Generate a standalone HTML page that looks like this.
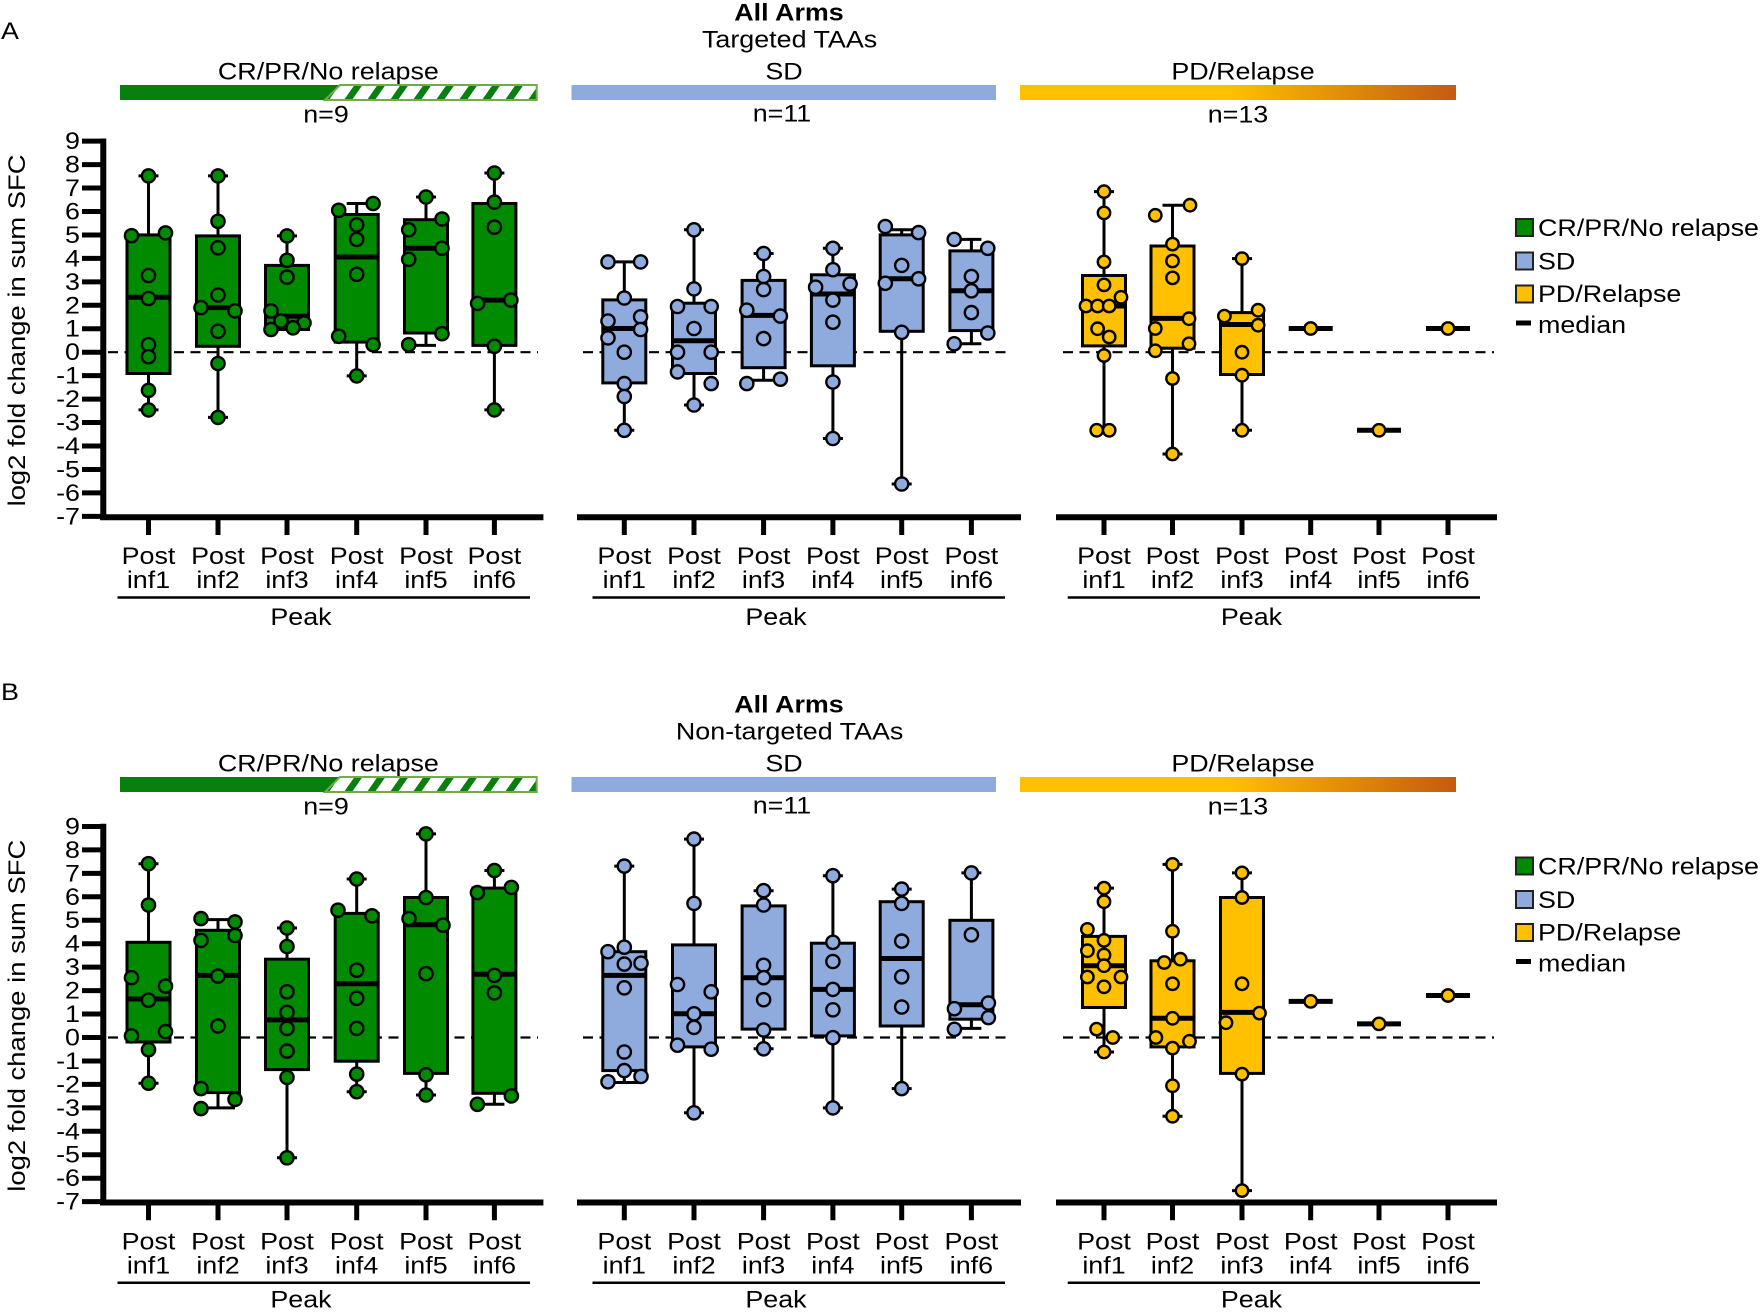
<!DOCTYPE html>
<html><head><meta charset="utf-8"><style>
html,body{margin:0;padding:0;background:#fff;}
body{width:1763px;height:1310px;overflow:hidden;}
svg text{font-family:"Liberation Sans",Arial,sans-serif;font-size:24px;fill:#000;}
.s{transform-box:fill-box;transform-origin:center;transform:scaleX(1.12);}
.sl{transform-box:fill-box;transform-origin:left center;transform:scaleX(1.12);}
.sr{transform-box:fill-box;transform-origin:right center;transform:scaleX(1.12);}
.w{stroke:#000;stroke-width:3;fill:none;}
.bx{stroke:#000;stroke-width:3;}
.md{stroke:#000;stroke-width:5;fill:none;}
.cg circle{fill:#008A00;stroke:#000;stroke-width:2.4;}
.cb circle{fill:#8FAADC;stroke:#000;stroke-width:2.4;}
.cy circle{fill:#FFC000;stroke:#000;stroke-width:2.4;}
</style></head><body>
<svg width="1763" height="1310" viewBox="0 0 1763 1310" xmlns="http://www.w3.org/2000/svg">
<defs>
<pattern id="hatch" patternUnits="userSpaceOnUse" width="23" height="30" patternTransform="skewX(-35)">
<rect width="23" height="30" fill="#fff"/><rect width="8" height="30" fill="#087F0F"/>
</pattern>
<linearGradient id="pdg" gradientUnits="userSpaceOnUse" x1="1020" y1="0" x2="1456" y2="0">
<stop offset="0" stop-color="#FFC000"/><stop offset="0.48" stop-color="#FFC000"/><stop offset="1" stop-color="#C55A11"/>
</linearGradient>
</defs>

<!-- ================= HEADER A ================= -->
<text class="sl" x="1" y="39" font-size="22">A</text>
<g>
<text class="s" x="789" y="20.3" text-anchor="middle" font-weight="bold">All Arms</text>
<text class="s" x="789.6" y="47.3" text-anchor="middle">Targeted TAAs</text>
<text class="s" x="328.4" y="79.4" text-anchor="middle">CR/PR/No relapse</text>
<text class="s" x="784" y="79.4" text-anchor="middle">SD</text>
<text class="s" x="1243" y="79.4" text-anchor="middle">PD/Relapse</text>
<polygon points="120,85 340,85 325,100 120,100" fill="#087F0F"/>
<polygon points="340,85 536.7,85 536.7,100 325,100" fill="url(#hatch)" stroke="#70AD47" stroke-width="2"/>
<rect x="571.5" y="85" width="424.5" height="15" fill="#8FAADC"/>
<rect x="1020" y="85" width="436" height="15" fill="url(#pdg)"/>
<text class="s" x="326" y="122.4" text-anchor="middle">n=9</text>
<text class="s" x="782" y="121.6" text-anchor="middle">n=11</text>
<text class="s" x="1238" y="122.4" text-anchor="middle">n=13</text>
</g>

<!-- ================= HEADER B ================= -->
<text class="sl" x="1" y="700" font-size="22">B</text>
<g transform="translate(0,692)">
<text class="s" x="789" y="20.3" text-anchor="middle" font-weight="bold">All Arms</text>
<text class="s" x="789.6" y="47.3" text-anchor="middle">Non-targeted TAAs</text>
<text class="s" x="328.4" y="79.4" text-anchor="middle">CR/PR/No relapse</text>
<text class="s" x="784" y="79.4" text-anchor="middle">SD</text>
<text class="s" x="1243" y="79.4" text-anchor="middle">PD/Relapse</text>
<polygon points="120,85 340,85 325,100 120,100" fill="#087F0F"/>
<polygon points="340,85 536.7,85 536.7,100 325,100" fill="url(#hatch)" stroke="#70AD47" stroke-width="2"/>
<rect x="571.5" y="85" width="424.5" height="15" fill="#8FAADC"/>
<rect x="1020" y="85" width="436" height="15" fill="url(#pdg)"/>
<text class="s" x="326" y="122.4" text-anchor="middle">n=9</text>
<text class="s" x="782" y="121.6" text-anchor="middle">n=11</text>
<text class="s" x="1238" y="122.4" text-anchor="middle">n=13</text>
</g>

<!-- ================= AXES A ================= -->
<g>
<path d="M82,141.15H103 M82,164.6H103 M82,188.05H103 M82,211.5H103 M82,234.95H103 M82,258.4H103 M82,281.85H103 M82,305.3H103 M82,328.75H103 M82,352.2H103 M82,375.65H103 M82,399.1H103 M82,422.55H103 M82,446H103 M82,469.45H103 M82,492.9H103 M82,516.35H103" stroke="#000" stroke-width="5"/>
<path d="M103.3,138.5V520" stroke="#000" stroke-width="6"/>
<path d="M100,517.2H543.4 M577,517.2H1021 M1056,517.2H1497" stroke="#000" stroke-width="6"/>
<path d="M148.5,517V535 M218,517V535 M287,517V535 M356.7,517V535 M426,517V535 M494.4,517V535 M624.3,517V535 M694,517V535 M763.6,517V535 M832.9,517V535 M901.7,517V535 M971.4,517V535 M1104,517V535 M1172.5,517V535 M1242,517V535 M1310.7,517V535 M1379,517V535 M1448,517V535" stroke="#000" stroke-width="5"/>
<path d="M108,352.2H538 M583,352.2H1012 M1063,352.2H1494" stroke="#000" stroke-width="2.2" stroke-dasharray="10 6.5"/>
<path d="M117.5,597.5H530 M592.5,597.5H1005 M1067.7,597.5H1480" stroke="#000" stroke-width="2.5"/>
<g font-size="23" text-anchor="end">
<text class="sr" x="80" y="149.2" font-size="23">9</text>
<text class="sr" x="80" y="172.6" font-size="23">8</text>
<text class="sr" x="80" y="196.05" font-size="23">7</text>
<text class="sr" x="80" y="219.5" font-size="23">6</text>
<text class="sr" x="80" y="242.95" font-size="23">5</text>
<text class="sr" x="80" y="266.4" font-size="23">4</text>
<text class="sr" x="80" y="289.85" font-size="23">3</text>
<text class="sr" x="80" y="313.3" font-size="23">2</text>
<text class="sr" x="80" y="336.75" font-size="23">1</text>
<text class="sr" x="80" y="360.2" font-size="23">0</text>
<text class="sr" x="80" y="383.65" font-size="23">-1</text>
<text class="sr" x="80" y="407.1" font-size="23">-2</text>
<text class="sr" x="80" y="430.55" font-size="23">-3</text>
<text class="sr" x="80" y="454" font-size="23">-4</text>
<text class="sr" x="80" y="477.45" font-size="23">-5</text>
<text class="sr" x="80" y="500.9" font-size="23">-6</text>
<text class="sr" x="80" y="524.35" font-size="23">-7</text>
</g>
<text transform="translate(25,330.4) rotate(-90)" text-anchor="middle" textLength="352" lengthAdjust="spacingAndGlyphs">log2 fold change in sum SFC</text>
<g text-anchor="middle">
<text class="s" x="148.5" y="564">Post</text><text class="s" x="148.5" y="588">inf1</text>
<text class="s" x="218" y="564">Post</text><text class="s" x="218" y="588">inf2</text>
<text class="s" x="287" y="564">Post</text><text class="s" x="287" y="588">inf3</text>
<text class="s" x="356.7" y="564">Post</text><text class="s" x="356.7" y="588">inf4</text>
<text class="s" x="426" y="564">Post</text><text class="s" x="426" y="588">inf5</text>
<text class="s" x="494.4" y="564">Post</text><text class="s" x="494.4" y="588">inf6</text>
<text class="s" x="624.3" y="564">Post</text><text class="s" x="624.3" y="588">inf1</text>
<text class="s" x="694" y="564">Post</text><text class="s" x="694" y="588">inf2</text>
<text class="s" x="763.6" y="564">Post</text><text class="s" x="763.6" y="588">inf3</text>
<text class="s" x="832.9" y="564">Post</text><text class="s" x="832.9" y="588">inf4</text>
<text class="s" x="901.7" y="564">Post</text><text class="s" x="901.7" y="588">inf5</text>
<text class="s" x="971.4" y="564">Post</text><text class="s" x="971.4" y="588">inf6</text>
<text class="s" x="1104" y="564">Post</text><text class="s" x="1104" y="588">inf1</text>
<text class="s" x="1172.5" y="564">Post</text><text class="s" x="1172.5" y="588">inf2</text>
<text class="s" x="1242" y="564">Post</text><text class="s" x="1242" y="588">inf3</text>
<text class="s" x="1310.7" y="564">Post</text><text class="s" x="1310.7" y="588">inf4</text>
<text class="s" x="1379" y="564">Post</text><text class="s" x="1379" y="588">inf5</text>
<text class="s" x="1448" y="564">Post</text><text class="s" x="1448" y="588">inf6</text>
<text class="s" x="301" y="625">Peak</text>
<text class="s" x="776" y="625">Peak</text>
<text class="s" x="1251.5" y="625">Peak</text>
</g>
</g>

<!-- ================= AXES B ================= -->
<g transform="translate(0,685.3)">
<path d="M82,141.15H103 M82,164.6H103 M82,188.05H103 M82,211.5H103 M82,234.95H103 M82,258.4H103 M82,281.85H103 M82,305.3H103 M82,328.75H103 M82,352.2H103 M82,375.65H103 M82,399.1H103 M82,422.55H103 M82,446H103 M82,469.45H103 M82,492.9H103 M82,516.35H103" stroke="#000" stroke-width="5"/>
<path d="M103.3,138.5V520" stroke="#000" stroke-width="6"/>
<path d="M100,517.2H543.4 M577,517.2H1021 M1056,517.2H1497" stroke="#000" stroke-width="6"/>
<path d="M148.5,517V535 M218,517V535 M287,517V535 M356.7,517V535 M426,517V535 M494.4,517V535 M624.3,517V535 M694,517V535 M763.6,517V535 M832.9,517V535 M901.7,517V535 M971.4,517V535 M1104,517V535 M1172.5,517V535 M1242,517V535 M1310.7,517V535 M1379,517V535 M1448,517V535" stroke="#000" stroke-width="5"/>
<path d="M108,352.2H538 M583,352.2H1012 M1063,352.2H1494" stroke="#000" stroke-width="2.2" stroke-dasharray="10 6.5"/>
<path d="M117.5,597.5H530 M592.5,597.5H1005 M1067.7,597.5H1480" stroke="#000" stroke-width="2.5"/>
<g text-anchor="end">
<text class="sr" x="80" y="149.2" font-size="23">9</text>
<text class="sr" x="80" y="172.6" font-size="23">8</text>
<text class="sr" x="80" y="196.05" font-size="23">7</text>
<text class="sr" x="80" y="219.5" font-size="23">6</text>
<text class="sr" x="80" y="242.95" font-size="23">5</text>
<text class="sr" x="80" y="266.4" font-size="23">4</text>
<text class="sr" x="80" y="289.85" font-size="23">3</text>
<text class="sr" x="80" y="313.3" font-size="23">2</text>
<text class="sr" x="80" y="336.75" font-size="23">1</text>
<text class="sr" x="80" y="360.2" font-size="23">0</text>
<text class="sr" x="80" y="383.65" font-size="23">-1</text>
<text class="sr" x="80" y="407.1" font-size="23">-2</text>
<text class="sr" x="80" y="430.55" font-size="23">-3</text>
<text class="sr" x="80" y="454" font-size="23">-4</text>
<text class="sr" x="80" y="477.45" font-size="23">-5</text>
<text class="sr" x="80" y="500.9" font-size="23">-6</text>
<text class="sr" x="80" y="524.35" font-size="23">-7</text>
</g>
<text transform="translate(25,330.4) rotate(-90)" text-anchor="middle" textLength="352" lengthAdjust="spacingAndGlyphs">log2 fold change in sum SFC</text>
<g text-anchor="middle">
<text class="s" x="148.5" y="564">Post</text><text class="s" x="148.5" y="588">inf1</text>
<text class="s" x="218" y="564">Post</text><text class="s" x="218" y="588">inf2</text>
<text class="s" x="287" y="564">Post</text><text class="s" x="287" y="588">inf3</text>
<text class="s" x="356.7" y="564">Post</text><text class="s" x="356.7" y="588">inf4</text>
<text class="s" x="426" y="564">Post</text><text class="s" x="426" y="588">inf5</text>
<text class="s" x="494.4" y="564">Post</text><text class="s" x="494.4" y="588">inf6</text>
<text class="s" x="624.3" y="564">Post</text><text class="s" x="624.3" y="588">inf1</text>
<text class="s" x="694" y="564">Post</text><text class="s" x="694" y="588">inf2</text>
<text class="s" x="763.6" y="564">Post</text><text class="s" x="763.6" y="588">inf3</text>
<text class="s" x="832.9" y="564">Post</text><text class="s" x="832.9" y="588">inf4</text>
<text class="s" x="901.7" y="564">Post</text><text class="s" x="901.7" y="588">inf5</text>
<text class="s" x="971.4" y="564">Post</text><text class="s" x="971.4" y="588">inf6</text>
<text class="s" x="1104" y="564">Post</text><text class="s" x="1104" y="588">inf1</text>
<text class="s" x="1172.5" y="564">Post</text><text class="s" x="1172.5" y="588">inf2</text>
<text class="s" x="1242" y="564">Post</text><text class="s" x="1242" y="588">inf3</text>
<text class="s" x="1310.7" y="564">Post</text><text class="s" x="1310.7" y="588">inf4</text>
<text class="s" x="1379" y="564">Post</text><text class="s" x="1379" y="588">inf5</text>
<text class="s" x="1448" y="564">Post</text><text class="s" x="1448" y="588">inf6</text>
<text class="s" x="301" y="622">Peak</text>
<text class="s" x="776" y="622">Peak</text>
<text class="s" x="1251.5" y="622">Peak</text>
</g>
</g>

<!-- ================= DATA A ================= -->
<!-- CR -->
<path class="w" d="M148.5,175.9V409.9 M138.5,175.9H158.5 M138.5,409.9H158.5 M218,175.9V417.4 M208,175.9H228 M208,417.4H228 M287,235.9V329.5 M277,235.9H297 M277,329.5H297 M356.7,203.5V375.9 M346.7,203.5H366.7 M346.7,375.9H366.7 M426,197V345.4 M416,197H436 M416,345.4H436 M494.4,173V409.9 M484.4,173H504.4 M484.4,409.9H504.4"/>
<g class="bx" fill="#008A00">
<rect x="127" y="234.9" width="43" height="138.6"/>
<rect x="196.5" y="235.9" width="43" height="110.4"/>
<rect x="265.5" y="265.4" width="43" height="64.1"/>
<rect x="335.2" y="214.5" width="43" height="127.6"/>
<rect x="404.5" y="219.7" width="43" height="113.3"/>
<rect x="472.9" y="203.5" width="43" height="141.9"/>
</g>
<path class="md" d="M127,297.3H170 M196.5,307.6H239.5 M265.5,316.1H308.5 M335.2,257H378.2 M404.5,248.3H447.5 M472.9,300.1H515.9"/>
<g class="cg">
<circle cx="148.5" cy="175.9" r="6.6"/><circle cx="131.5" cy="235.7" r="6.6"/><circle cx="165.5" cy="232.9" r="6.6"/><circle cx="148.5" cy="275.5" r="6.6"/><circle cx="148.5" cy="298.5" r="6.6"/><circle cx="148.5" cy="344.7" r="6.6"/><circle cx="148.5" cy="356.7" r="6.6"/><circle cx="148.5" cy="390.4" r="6.6"/><circle cx="148.5" cy="409.9" r="6.6"/>
<circle cx="218" cy="175.9" r="6.6"/><circle cx="218" cy="221.3" r="6.6"/><circle cx="218" cy="247.8" r="6.6"/><circle cx="218" cy="295" r="6.6"/><circle cx="201" cy="307.6" r="6.6"/><circle cx="235" cy="310.9" r="6.6"/><circle cx="218" cy="331.3" r="6.6"/><circle cx="218" cy="363.5" r="6.6"/><circle cx="218" cy="417.4" r="6.6"/>
<circle cx="287" cy="235.9" r="6.6"/><circle cx="287" cy="260.3" r="6.6"/><circle cx="287" cy="277.2" r="6.6"/><circle cx="271" cy="310.9" r="6.6"/><circle cx="281" cy="321" r="6.6"/><circle cx="304" cy="322.9" r="6.6"/><circle cx="271" cy="329.5" r="6.6"/><circle cx="293" cy="327.8" r="6.6"/>
<circle cx="338.7" cy="210.3" r="6.6"/><circle cx="373.1" cy="203.5" r="6.6"/><circle cx="356.7" cy="224.9" r="6.6"/><circle cx="356.7" cy="239.4" r="6.6"/><circle cx="356.7" cy="274.3" r="6.6"/><circle cx="338.7" cy="336.3" r="6.6"/><circle cx="373.1" cy="344.7" r="6.6"/><circle cx="356.7" cy="375.9" r="6.6"/>
<circle cx="426" cy="197" r="6.6"/><circle cx="442" cy="219" r="6.6"/><circle cx="408.7" cy="229.8" r="6.6"/><circle cx="442" cy="248.3" r="6.6"/><circle cx="408.7" cy="259.3" r="6.6"/><circle cx="442" cy="333.7" r="6.6"/><circle cx="408.7" cy="344.7" r="6.6"/>
<circle cx="494.4" cy="173" r="6.6"/><circle cx="494.4" cy="202.1" r="6.6"/><circle cx="494.4" cy="227.2" r="6.6"/><circle cx="477.6" cy="303.4" r="6.6"/><circle cx="510.9" cy="300.1" r="6.6"/><circle cx="494.4" cy="346.3" r="6.6"/><circle cx="494.4" cy="409.9" r="6.6"/>
</g>
<!-- SD -->
<path class="w" d="M624.3,261.9V430.3 M608,261.9H640.6 M614.3,430.3H634.3 M694,229.8V405 M684,229.8H704 M684,405H704 M763.6,253.5V380.3 M753.6,253.5H773.6 M746.8,380.3H780.4 M832.9,248.3V438.5 M822.9,248.3H842.9 M822.9,438.5H842.9 M901.7,229.8V484 M885.3,229.8H918.6 M891.7,484H911.7 M971.4,239.4V343.8 M954.2,239.4H981.4 M954.2,343.8H981.4"/>
<g class="bx" fill="#8FAADC">
<rect x="602.8" y="299.9" width="43" height="83"/>
<rect x="672.5" y="303.2" width="43" height="70.3"/>
<rect x="742.1" y="280.4" width="43" height="87.3"/>
<rect x="811.4" y="274.8" width="43" height="91"/>
<rect x="880.2" y="234.9" width="43" height="96.4"/>
<rect x="949.9" y="250.9" width="43" height="79.7"/>
</g>
<path class="md" d="M602.8,328.5H645.8 M672.5,340.7H715.5 M742.1,315.4H785.1 M811.4,294H854.4 M880.2,278.8H923.2 M949.9,290.8H992.9"/>
<g class="cb">
<circle cx="608" cy="261.9" r="6.6"/><circle cx="640.6" cy="261.9" r="6.6"/><circle cx="624.3" cy="298" r="6.6"/><circle cx="608" cy="321" r="6.6"/><circle cx="640.6" cy="316.8" r="6.6"/><circle cx="608" cy="337.9" r="6.6"/><circle cx="640.6" cy="329.5" r="6.6"/><circle cx="624.3" cy="352.2" r="6.6"/><circle cx="624.3" cy="383.6" r="6.6"/><circle cx="624.3" cy="396.5" r="6.6"/><circle cx="624.3" cy="430.3" r="6.6"/>
<circle cx="694" cy="229.8" r="6.6"/><circle cx="694" cy="288.9" r="6.6"/><circle cx="677.5" cy="306.5" r="6.6"/><circle cx="711.2" cy="306.5" r="6.6"/><circle cx="694" cy="328.5" r="6.6"/><circle cx="677.5" cy="352.2" r="6.6"/><circle cx="711.2" cy="352.2" r="6.6"/><circle cx="677.5" cy="371.9" r="6.6"/><circle cx="711.2" cy="383.6" r="6.6"/><circle cx="694" cy="405" r="6.6"/>
<circle cx="763.6" cy="253.5" r="6.6"/><circle cx="763.6" cy="276.5" r="6.6"/><circle cx="763.6" cy="289.6" r="6.6"/><circle cx="746.8" cy="310.2" r="6.6"/><circle cx="780.4" cy="316.1" r="6.6"/><circle cx="763.6" cy="338.6" r="6.6"/><circle cx="746.8" cy="383.6" r="6.6"/><circle cx="780.4" cy="379.2" r="6.6"/>
<circle cx="832.9" cy="248.3" r="6.6"/><circle cx="832.9" cy="269.7" r="6.6"/><circle cx="815.6" cy="287.2" r="6.6"/><circle cx="850.1" cy="284" r="6.6"/><circle cx="832.9" cy="300.1" r="6.6"/><circle cx="832.9" cy="322.2" r="6.6"/><circle cx="832.9" cy="382" r="6.6"/><circle cx="832.9" cy="438.5" r="6.6"/>
<circle cx="885.3" cy="226.5" r="6.6"/><circle cx="918.6" cy="232.6" r="6.6"/><circle cx="901.7" cy="265.4" r="6.6"/><circle cx="885.3" cy="283.3" r="6.6"/><circle cx="918.6" cy="278.8" r="6.6"/><circle cx="901.7" cy="332.3" r="6.6"/><circle cx="901.7" cy="484" r="6.6"/>
<circle cx="954.2" cy="239.4" r="6.6"/><circle cx="987.8" cy="248.3" r="6.6"/><circle cx="971.4" cy="276.5" r="6.6"/><circle cx="971.4" cy="290.8" r="6.6"/><circle cx="971.4" cy="312.6" r="6.6"/><circle cx="987.8" cy="333" r="6.6"/><circle cx="954.2" cy="343.8" r="6.6"/>
</g>
<!-- PD -->
<path class="w" d="M1104,191.6V430.3 M1094,191.6H1114 M1094,430.3H1114 M1172.5,205.2V454 M1162.5,205.2H1190 M1162.5,454H1182.5 M1242,258.6V430.3 M1232,258.6H1252 M1232,430.3H1252"/>
<g class="bx" fill="#FFC000">
<rect x="1082.5" y="275.5" width="43" height="70.4"/>
<rect x="1151" y="246" width="43" height="102.2"/>
<rect x="1220.5" y="312.6" width="43" height="61.9"/>
</g>
<path class="md" d="M1082.5,306H1125.5 M1151,318.4H1194 M1220.5,324.5H1263.5 M1288.7,328.5H1332.7 M1357,430.3H1401 M1426,328.5H1470"/>
<g class="cy">
<circle cx="1104" cy="191.6" r="6.2"/><circle cx="1104" cy="212.9" r="6.2"/><circle cx="1104" cy="261.9" r="6.2"/><circle cx="1104" cy="284.9" r="6.2"/><circle cx="1121" cy="297.3" r="6.2"/><circle cx="1086" cy="306" r="6.2"/><circle cx="1097.6" cy="306" r="6.2"/><circle cx="1109.2" cy="306" r="6.2"/><circle cx="1097.6" cy="328.7" r="6.2"/><circle cx="1109.2" cy="337" r="6.2"/><circle cx="1104" cy="355.5" r="6.2"/><circle cx="1096.7" cy="430.3" r="6.2"/><circle cx="1109.2" cy="430.3" r="6.2"/>
<circle cx="1190" cy="205.2" r="6.2"/><circle cx="1155.3" cy="215.3" r="6.2"/><circle cx="1172.5" cy="244.1" r="6.2"/><circle cx="1172.5" cy="261" r="6.2"/><circle cx="1172.5" cy="277.9" r="6.2"/><circle cx="1189" cy="318.7" r="6.2"/><circle cx="1155.3" cy="328.5" r="6.2"/><circle cx="1189" cy="343.8" r="6.2"/><circle cx="1155.3" cy="350.8" r="6.2"/><circle cx="1172.5" cy="378.5" r="6.2"/><circle cx="1172.5" cy="454" r="6.2"/>
<circle cx="1242" cy="258.6" r="6.2"/><circle cx="1224.4" cy="316.1" r="6.2"/><circle cx="1258.1" cy="310.2" r="6.2"/><circle cx="1258.1" cy="325.2" r="6.2"/><circle cx="1242" cy="352.2" r="6.2"/><circle cx="1242" cy="375.2" r="6.2"/><circle cx="1242" cy="430.3" r="6.2"/>
<circle cx="1310.7" cy="328.5" r="6.2"/><circle cx="1379" cy="430.3" r="6.2"/><circle cx="1448" cy="328.5" r="6.2"/>
</g>

<!-- ================= DATA B ================= -->
<!-- CR -->
<path class="w" d="M148.5,863.7V1083.2 M138.5,863.7H158.5 M138.5,1083.2H158.5 M218,919.6V1107.9 M201,919.6H235 M201,1107.9H235 M287,928V1157.8 M277,928H297 M277,1157.8H297 M356.7,879V1091.7 M346.7,879H366.7 M346.7,1091.7H366.7 M426,833.9V1095 M416,833.9H436 M416,1095H436 M494.4,870.5V1104.3 M484.4,870.5H504.4 M477.4,1104.3H504.4"/>
<g class="bx" fill="#008A00">
<rect x="127" y="942.3" width="43" height="99.7"/>
<rect x="196.5" y="930.3" width="43" height="162.3"/>
<rect x="265.5" y="959.2" width="43" height="110.4"/>
<rect x="335.2" y="913.4" width="43" height="147.8"/>
<rect x="404.5" y="897.5" width="43" height="175.9"/>
<rect x="472.9" y="888.1" width="43" height="205.2"/>
</g>
<path class="md" d="M127,999H170 M196.5,975.4H239.5 M265.5,1019.9H308.5 M335.2,983.8H378.2 M404.5,924.7H447.5 M472.9,974.2H515.9"/>
<g class="cg">
<circle cx="148.5" cy="863.7" r="6.6"/><circle cx="148.5" cy="905" r="6.6"/><circle cx="131.5" cy="977.7" r="6.6"/><circle cx="165.5" cy="986.1" r="6.6"/><circle cx="148.5" cy="1000.2" r="6.6"/><circle cx="131.5" cy="1035.9" r="6.6"/><circle cx="165.5" cy="1031.6" r="6.6"/><circle cx="148.5" cy="1049.7" r="6.6"/><circle cx="148.5" cy="1083.2" r="6.6"/>
<circle cx="201" cy="918.6" r="6.6"/><circle cx="235" cy="921.9" r="6.6"/><circle cx="201" cy="940.4" r="6.6"/><circle cx="235" cy="935.5" r="6.6"/><circle cx="218" cy="976.1" r="6.6"/><circle cx="218" cy="1026" r="6.6"/><circle cx="201" cy="1088.6" r="6.6"/><circle cx="235" cy="1099.4" r="6.6"/><circle cx="201" cy="1108.6" r="6.6"/>
<circle cx="287" cy="928" r="6.6"/><circle cx="287" cy="946.5" r="6.6"/><circle cx="287" cy="991.8" r="6.6"/><circle cx="287" cy="1012.4" r="6.6"/><circle cx="287" cy="1028.4" r="6.6"/><circle cx="287" cy="1051.1" r="6.6"/><circle cx="287" cy="1077.4" r="6.6"/><circle cx="287" cy="1157.8" r="6.6"/>
<circle cx="356.7" cy="879" r="6.6"/><circle cx="338" cy="910.2" r="6.6"/><circle cx="372" cy="915.8" r="6.6"/><circle cx="356.7" cy="970.2" r="6.6"/><circle cx="356.7" cy="998.3" r="6.6"/><circle cx="356.7" cy="1028.4" r="6.6"/><circle cx="356.7" cy="1074.1" r="6.6"/><circle cx="356.7" cy="1091.7" r="6.6"/>
<circle cx="426" cy="833.9" r="6.6"/><circle cx="426" cy="897.5" r="6.6"/><circle cx="409" cy="918.6" r="6.6"/><circle cx="443" cy="925.2" r="6.6"/><circle cx="426" cy="973.7" r="6.6"/><circle cx="426" cy="1074.8" r="6.6"/><circle cx="426" cy="1095" r="6.6"/>
<circle cx="494.4" cy="870.5" r="6.6"/><circle cx="477.4" cy="892.6" r="6.6"/><circle cx="511.4" cy="887.4" r="6.6"/><circle cx="494.4" cy="975.4" r="6.6"/><circle cx="494.4" cy="992.9" r="6.6"/><circle cx="511.4" cy="1095.9" r="6.6"/><circle cx="477.4" cy="1104.3" r="6.6"/>
</g>
<!-- SD -->
<path class="w" d="M624.3,866.1V1082.5 M614.3,866.1H634.3 M609,1082.5H641 M694,839.1V1112.8 M684,839.1H704 M684,1112.8H704 M763.6,890.7V1048.8 M753.6,890.7H773.6 M753.6,1048.8H773.6 M832.9,875.7V1107.9 M822.9,875.7H842.9 M822.9,1107.9H842.9 M901.7,889.1V1088.6 M891.7,889.1H911.7 M891.7,1088.6H911.7 M971.4,872.9V1028.4 M961.4,872.9H981.4 M954.4,1028.4H981.4"/>
<g class="bx" fill="#8FAADC">
<rect x="602.8" y="951.7" width="43" height="118.9"/>
<rect x="672.5" y="944.9" width="43" height="102"/>
<rect x="742.1" y="905.9" width="43" height="123.2"/>
<rect x="811.4" y="943.2" width="43" height="92.7"/>
<rect x="880.2" y="901.7" width="43" height="124.3"/>
<rect x="949.9" y="920.3" width="43" height="98.9"/>
</g>
<path class="md" d="M602.8,975.4H645.8 M672.5,1013.8H715.5 M742.1,977.7H785.1 M811.4,989.4H854.4 M880.2,958.5H923.2 M949.9,1004.7H992.9"/>
<g class="cb">
<circle cx="624.3" cy="866.1" r="6.6"/><circle cx="608" cy="951.7" r="6.6"/><circle cx="624.3" cy="947.2" r="6.6"/><circle cx="624.3" cy="964.1" r="6.6"/><circle cx="641" cy="963.2" r="6.6"/><circle cx="624.3" cy="987.8" r="6.6"/><circle cx="624.3" cy="1052" r="6.6"/><circle cx="624.3" cy="1070.6" r="6.6"/><circle cx="641" cy="1076.4" r="6.6"/><circle cx="608" cy="1081.8" r="6.6"/>
<circle cx="694" cy="839.1" r="6.6"/><circle cx="694" cy="903.4" r="6.6"/><circle cx="677.5" cy="984.5" r="6.6"/><circle cx="711.2" cy="991.8" r="6.6"/><circle cx="694" cy="1013.8" r="6.6"/><circle cx="694" cy="1027.4" r="6.6"/><circle cx="677.5" cy="1045.2" r="6.6"/><circle cx="711.2" cy="1049.2" r="6.6"/><circle cx="694" cy="1112.8" r="6.6"/>
<circle cx="763.6" cy="890.7" r="6.6"/><circle cx="763.6" cy="905" r="6.6"/><circle cx="763.6" cy="965.3" r="6.6"/><circle cx="763.6" cy="977.7" r="6.6"/><circle cx="763.6" cy="999.7" r="6.6"/><circle cx="763.6" cy="1030" r="6.6"/><circle cx="763.6" cy="1048.8" r="6.6"/>
<circle cx="832.9" cy="875.7" r="6.6"/><circle cx="832.9" cy="942.3" r="6.6"/><circle cx="832.9" cy="961.5" r="6.6"/><circle cx="832.9" cy="989.4" r="6.6"/><circle cx="832.9" cy="1009.8" r="6.6"/><circle cx="832.9" cy="1037.7" r="6.6"/><circle cx="832.9" cy="1107.9" r="6.6"/>
<circle cx="901.7" cy="889.1" r="6.6"/><circle cx="901.7" cy="903.4" r="6.6"/><circle cx="901.7" cy="941.1" r="6.6"/><circle cx="901.7" cy="976.8" r="6.6"/><circle cx="901.7" cy="1007" r="6.6"/><circle cx="901.7" cy="1088.6" r="6.6"/>
<circle cx="971.4" cy="872.9" r="6.6"/><circle cx="971.4" cy="934.8" r="6.6"/><circle cx="954.4" cy="1008.7" r="6.6"/><circle cx="988.4" cy="1003" r="6.6"/><circle cx="988.4" cy="1017.6" r="6.6"/><circle cx="954.4" cy="1029.3" r="6.6"/>
</g>
<!-- PD -->
<path class="w" d="M1104,888.1V1052 M1094,888.1H1114 M1094,1052H1114 M1172.5,864.4V1116.3 M1162.5,864.4H1182.5 M1162.5,1116.3H1182.5 M1242,872.9V1190.6 M1232,872.9H1252 M1232,1190.6H1252"/>
<g class="bx" fill="#FFC000">
<rect x="1082.5" y="936.4" width="43" height="71.1"/>
<rect x="1151" y="960.8" width="43" height="86.1"/>
<rect x="1220.5" y="897.5" width="43" height="175.9"/>
</g>
<path class="md" d="M1082.5,965.7H1125.5 M1151,1018.3H1194 M1220.5,1012.4H1263.5 M1288.7,1001.4H1332.7 M1357,1023.9H1401 M1426,995.5H1470"/>
<g class="cy">
<circle cx="1104" cy="888.1" r="6.2"/><circle cx="1104" cy="901.7" r="6.2"/><circle cx="1087.4" cy="929.4" r="6.2"/><circle cx="1104" cy="940.4" r="6.2"/><circle cx="1087.4" cy="950.7" r="6.2"/><circle cx="1104" cy="955" r="6.2"/><circle cx="1104" cy="965.7" r="6.2"/><circle cx="1087.4" cy="977" r="6.2"/><circle cx="1121" cy="977" r="6.2"/><circle cx="1104" cy="986.8" r="6.2"/><circle cx="1096.6" cy="1029.1" r="6.2"/><circle cx="1112.8" cy="1037.5" r="6.2"/><circle cx="1104" cy="1052" r="6.2"/>
<circle cx="1172.5" cy="864.4" r="6.2"/><circle cx="1172.5" cy="931.3" r="6.2"/><circle cx="1164.2" cy="962.5" r="6.2"/><circle cx="1180.3" cy="959.2" r="6.2"/><circle cx="1172.5" cy="983.8" r="6.2"/><circle cx="1172.5" cy="1018.3" r="6.2"/><circle cx="1155.9" cy="1037.5" r="6.2"/><circle cx="1189.5" cy="1041.3" r="6.2"/><circle cx="1172.5" cy="1048.1" r="6.2"/><circle cx="1172.5" cy="1085.8" r="6.2"/><circle cx="1172.5" cy="1116.3" r="6.2"/>
<circle cx="1242" cy="872.9" r="6.2"/><circle cx="1242" cy="897.5" r="6.2"/><circle cx="1242" cy="983.8" r="6.2"/><circle cx="1259.5" cy="1013.1" r="6.2"/><circle cx="1226" cy="1022.7" r="6.2"/><circle cx="1242" cy="1074.1" r="6.2"/><circle cx="1242" cy="1190.6" r="6.2"/>
<circle cx="1310.7" cy="1001.4" r="6.2"/><circle cx="1379" cy="1023.9" r="6.2"/><circle cx="1448" cy="995.5" r="6.2"/>
</g>

<!-- ================= LEGENDS ================= -->
<g>
<rect x="1516" y="219" width="17" height="17" fill="#008A00" stroke="#222" stroke-width="2"/>
<rect x="1516" y="252.5" width="17" height="17" fill="#8FAADC" stroke="#222" stroke-width="2"/>
<rect x="1516" y="285.5" width="17" height="17" fill="#FFC000" stroke="#222" stroke-width="2"/>
<path d="M1516,323H1531" stroke="#000" stroke-width="5"/>
<text class="sl" x="1538" y="236">CR/PR/No relapse</text>
<text class="sl" x="1538" y="269.5">SD</text>
<text class="sl" x="1538" y="302">PD/Relapse</text>
<text class="sl" x="1538" y="333">median</text>
</g>
<g transform="translate(0,638.5)">
<rect x="1516" y="219" width="17" height="17" fill="#008A00" stroke="#222" stroke-width="2"/>
<rect x="1516" y="252.5" width="17" height="17" fill="#8FAADC" stroke="#222" stroke-width="2"/>
<rect x="1516" y="285.5" width="17" height="17" fill="#FFC000" stroke="#222" stroke-width="2"/>
<path d="M1516,323H1531" stroke="#000" stroke-width="5"/>
<text class="sl" x="1538" y="236">CR/PR/No relapse</text>
<text class="sl" x="1538" y="269.5">SD</text>
<text class="sl" x="1538" y="302">PD/Relapse</text>
<text class="sl" x="1538" y="333">median</text>
</g>
</svg>
</body></html>
